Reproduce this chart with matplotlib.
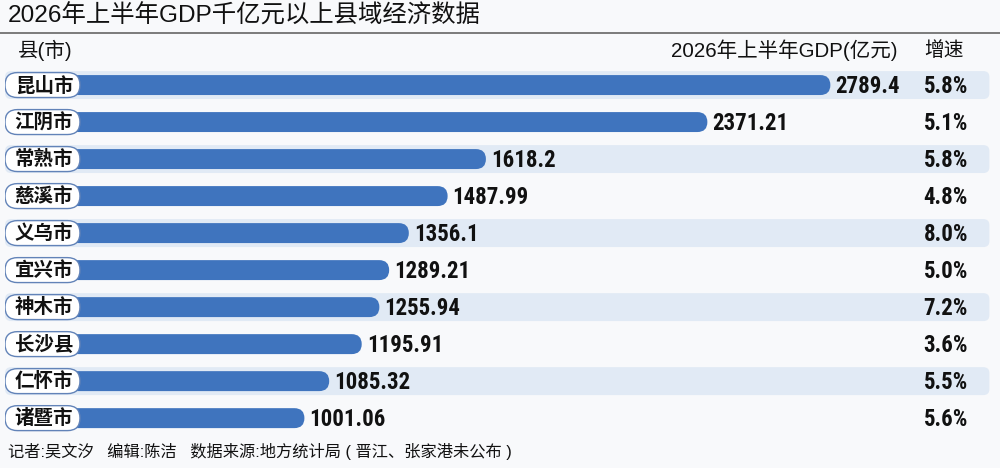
import matplotlib
matplotlib.use("Agg")
import matplotlib.pyplot as plt
from matplotlib.patches import FancyBboxPatch
from matplotlib.lines import Line2D

# data
counties = ["昆山市", "江阴市", "常熟市", "慈溪市", "义乌市",
            "宜兴市", "神木市", "长沙县", "仁怀市", "诸暨市"]
gdp = [2789.4, 2371.21, 1618.2, 1487.99, 1356.1,
       1289.21, 1255.94, 1195.91, 1085.32, 1001.06]
gdp_labels = ["2789.4", "2371.21", "1618.2", "1487.99", "1356.1",
              "1289.21", "1255.94", "1195.91", "1085.32", "1001.06"]
growth = ["5.8%", "5.1%", "5.8%", "4.8%", "8.0%",
          "5.0%", "7.2%", "3.6%", "5.5%", "5.6%"]

title = "2026年上半年GDP千亿元以上县域经济数据"
head_left = "县(市)"
head_gdp = "2026年上半年GDP(亿元)"
head_growth = "增速"
footer = "记者:吴文汐   编辑:陈洁   数据来源:地方统计局 ( 晋江、张家港未公布 )"

CJK = ["Noto Sans CJK SC", "DejaVu Sans"]
MIX = ["Liberation Sans", "Noto Sans CJK SC", "DejaVu Sans"]
NUM = ["Roboto Condensed", "DejaVu Sans"]

plt.rcParams["font.family"] = CJK

BG = "#f8f9fb"
BAR = "#3f74be"
BAND = "#e1eaf5"
EDGE = "#6283b8"
INK = "#111111"

fig = plt.figure(figsize=(10, 4.68), dpi=100)
fig.patch.set_facecolor(BG)

# axes: left px 5 .. right px 990, rows 0..9
ax = fig.add_axes([0.005, 0.067, 0.985, 0.7908])
ax.set_facecolor("none")
px_per_unit = 0.2941
xmin = -5 / px_per_unit
xmax = 980 / px_per_unit
ax.set_xlim(xmin, xmax)
ax.set_ylim(len(counties) - 0.5, -0.5)
ax.axis("off")

row_px = 37.1
def aspect(r_px):
    return (r_px / row_px) / (r_px / px_per_unit)

# alternating bands
for i in range(0, len(counties), 2):
    h = 28 / row_px
    r = 6 / px_per_unit
    ax.add_patch(FancyBboxPatch((xmin, i - h / 2), xmax - xmin - 2, h,
                                boxstyle=f"round,pad=0,rounding_size={r}",
                                mutation_aspect=aspect(6),
                                fc=BAND, ec="none", zorder=1))

# bars with rounded ends
bars = ax.barh(range(len(counties)), gdp, height=20 / row_px, color=BAR)
for b in bars:
    x, y = b.get_x(), b.get_y()
    w, h = b.get_width(), b.get_height()
    b.remove()
    r = 10 / px_per_unit
    ax.add_patch(FancyBboxPatch((x, y), w, h,
                                boxstyle=f"round,pad=0,rounding_size={r}",
                                mutation_aspect=aspect(10),
                                fc=BAR, ec="none", zorder=2))

# label pills
pill_w = 75 / px_per_unit
for i, name in enumerate(counties):
    h = 25 / row_px
    r = 12.5 / px_per_unit
    ax.add_patch(FancyBboxPatch((xmin, i - h / 2), pill_w, h,
                                boxstyle=f"round,pad=0,rounding_size={r}",
                                mutation_aspect=aspect(12.5),
                                fc="white", ec=EDGE, lw=1.0, zorder=3))
    ax.text(xmin + pill_w / 2 + 5, i + 0.02, name, ha="center", va="center",
            fontsize=14, fontweight="bold", color=INK, zorder=4)

# value labels and growth
for i, v in enumerate(gdp):
    ax.text(v + 5 / px_per_unit, i + 0.03, gdp_labels[i], ha="left", va="center",
            fontsize=16.5, fontweight="bold", family=NUM, color=INK, zorder=4)
    ax.text(0.9777, i + 0.03, growth[i], transform=ax.get_yaxis_transform(),
            ha="right", va="center", fontsize=16.5, fontweight="bold",
            family=NUM, color=INK, zorder=4)

# title, rule, headers, footer
fig.text(0.008, 1 - 16 / 468, title, ha="left", va="center", fontsize=17.6,
         family=MIX, fontweight="medium", color=INK)
fig.add_artist(Line2D([0, 1], [1 - 33 / 468, 1 - 33 / 468], color="#666666",
                      lw=1.2, transform=fig.transFigure))
fig.text(0.018, 1 - 50 / 468, head_left, ha="left", va="center", fontsize=14.8,
         family=MIX, color=INK)
fig.text(0.897, 1 - 50 / 468, head_gdp, ha="right", va="center", fontsize=14.8,
         family=MIX, color=INK)
fig.text(0.9435, 1 - 50 / 468, head_growth, ha="center", va="center",
         fontsize=14.2, family=MIX, color=INK)
fig.text(0.008, 1 - 452 / 468, footer, ha="left", va="center", fontsize=11.7,
         family=MIX, color=INK)

fig.savefig("out.png", dpi=100, facecolor=BG)
